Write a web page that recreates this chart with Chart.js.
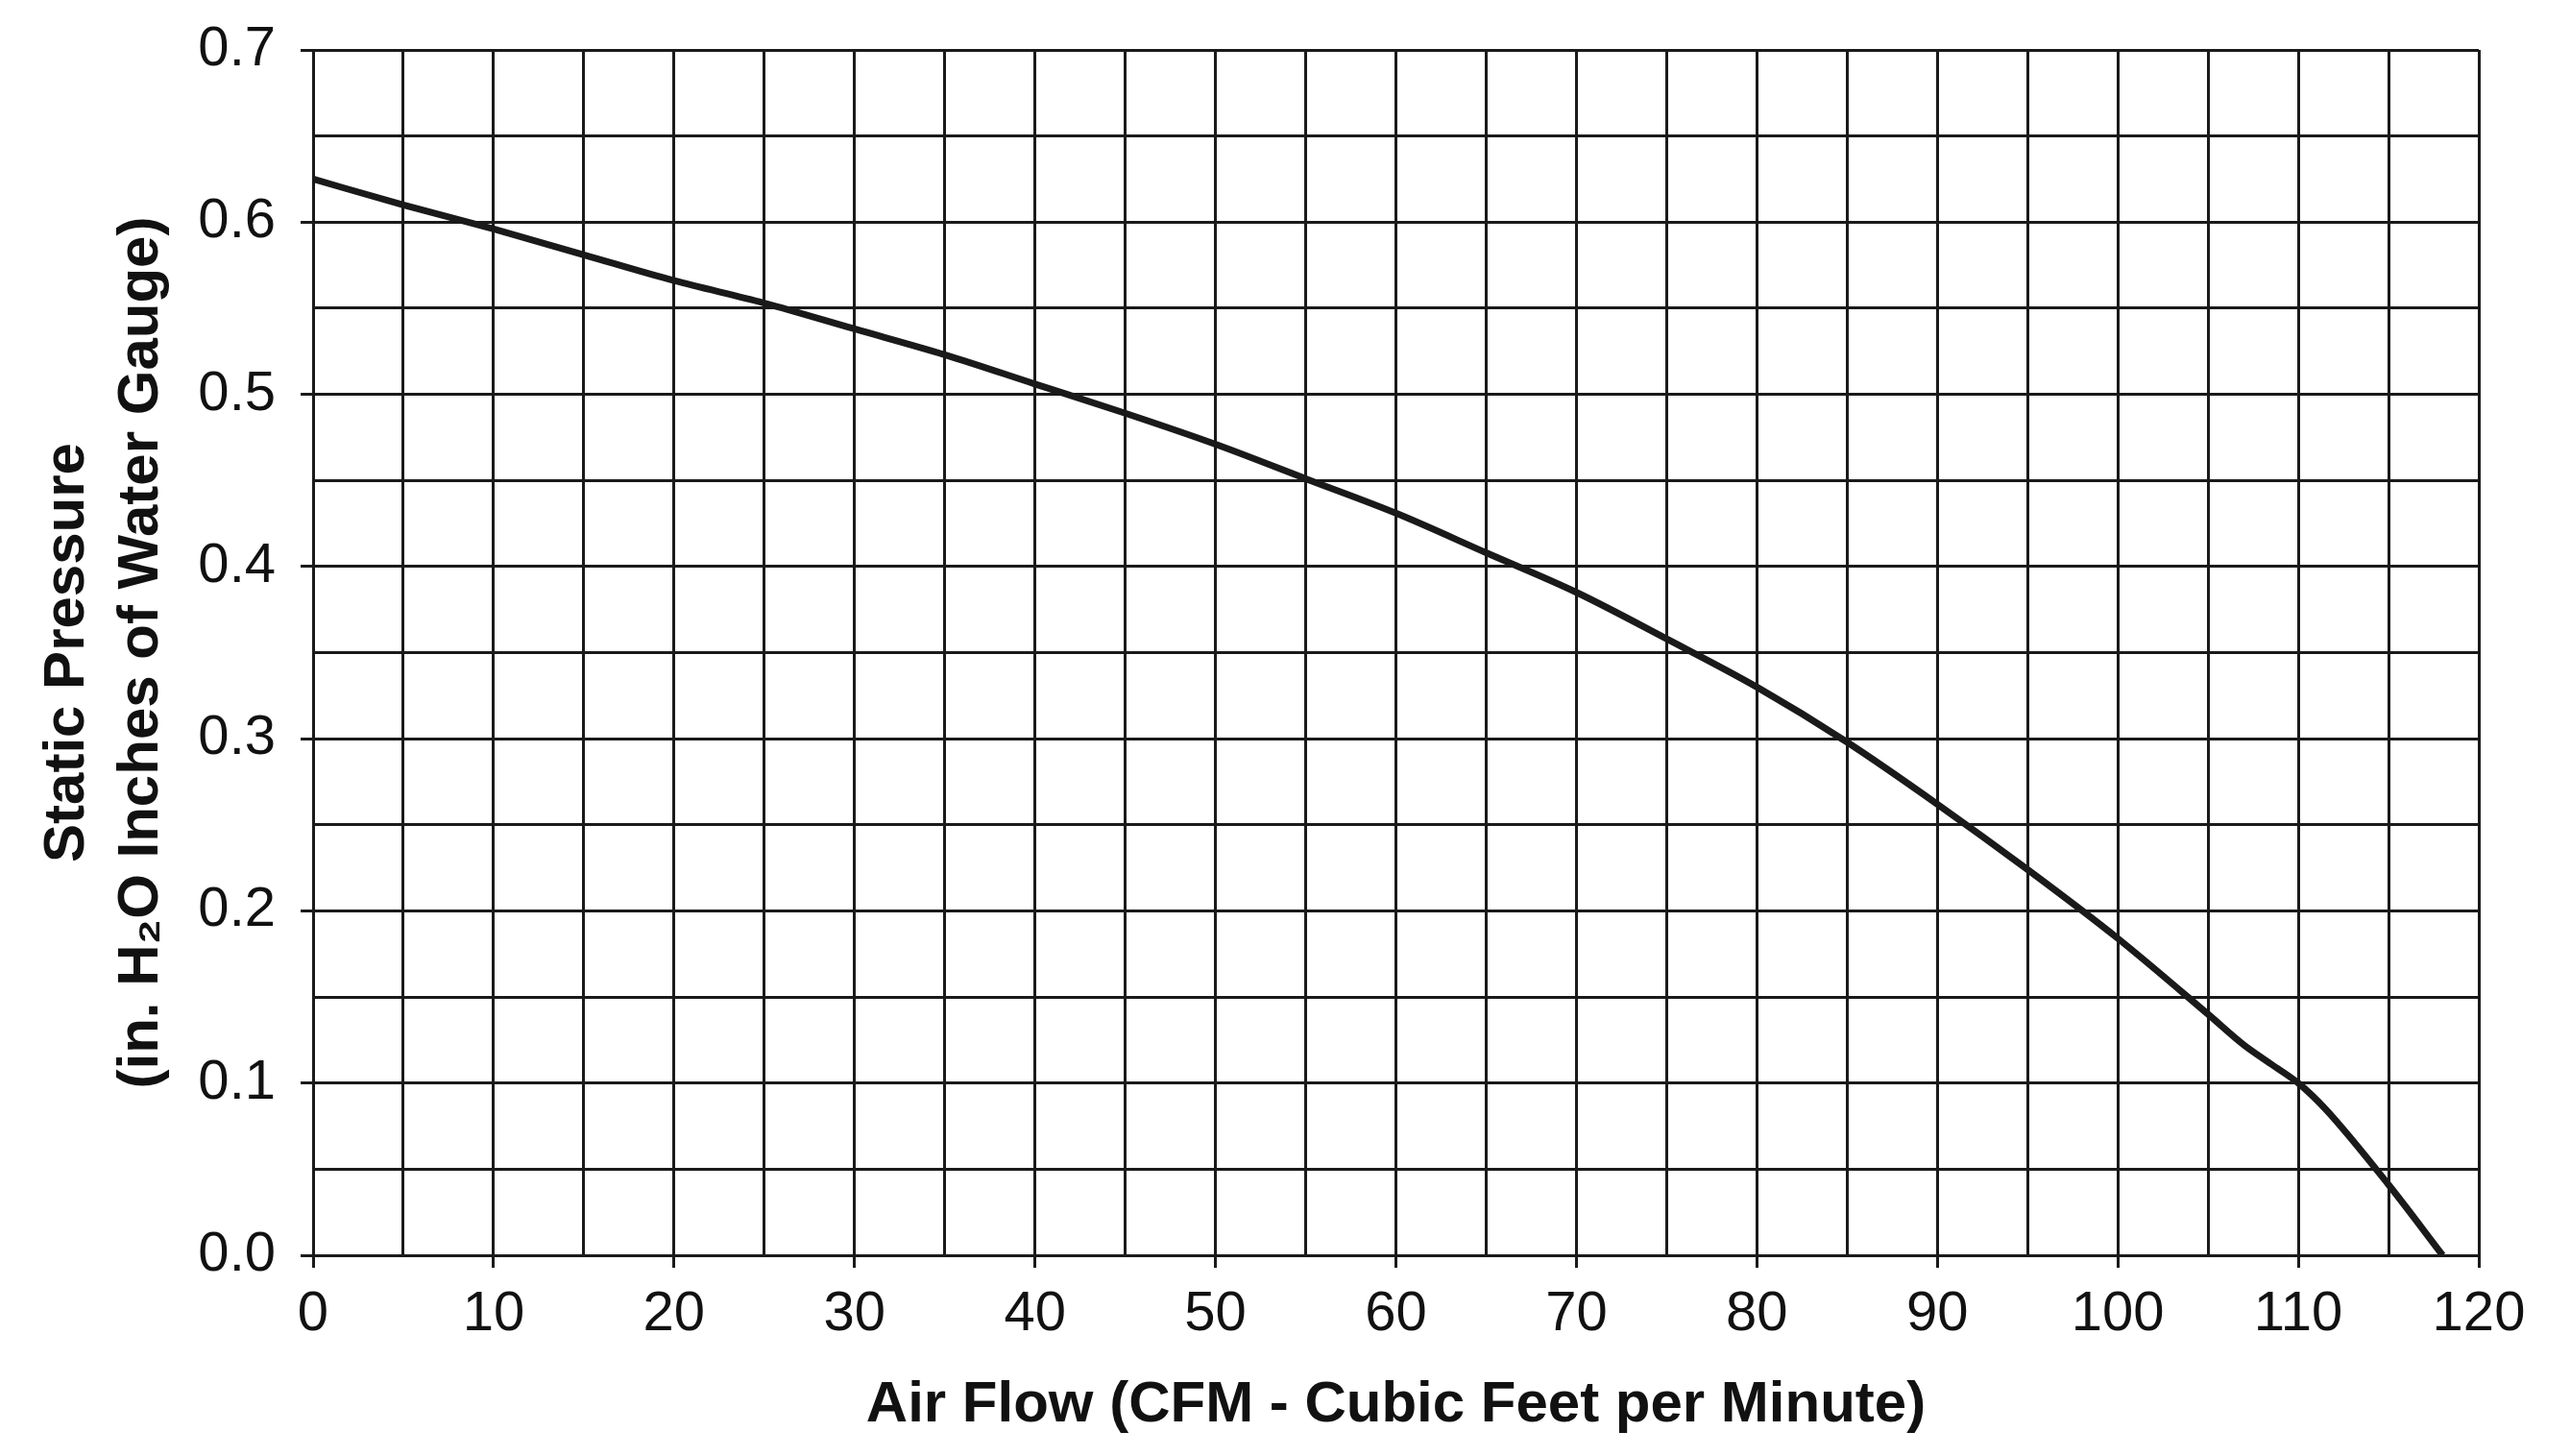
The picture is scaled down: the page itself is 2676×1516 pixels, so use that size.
<!DOCTYPE html>
<html>
<head>
<meta charset="utf-8">
<script src="https://cdn.jsdelivr.net/npm/chart.js@4.4.1/dist/chart.umd.min.js"></script>
<style>
  html, body { margin: 0; padding: 0; background: #ffffff; }
  #wrap { width: 2676px; height: 1516px; position: relative; }
</style>
</head>
<body>
<div id="wrap"><canvas id="c"></canvas></div>
<script>
// Air flow (CFM) values
const airFlow = [0, 5, 10, 15, 20, 25, 30, 35, 40, 45, 50, 55, 60, 65, 70, 75, 80, 85, 90, 95, 100, 105, 107, 108.5, 110, 111.5, 115, 118];
// Static pressure (in. H2O)
const staticPressure = [0.625, 0.610, 0.596, 0.581, 0.566, 0.553, 0.538, 0.523, 0.506, 0.489, 0.471, 0.451, 0.431, 0.408, 0.385, 0.358, 0.330, 0.298, 0.262, 0.224, 0.184, 0.140, 0.122, 0.111, 0.100, 0.085, 0.041, 0.0];

const xTitle = 'Air Flow (CFM - Cubic Feet per Minute)';
const yTitle = ['Static Pressure', '(in. H\u2082O Inches of Water Gauge)'];

const INK = '#1a1a1a';
const tickFont = { family: "'Liberation Sans', Arial, Helvetica, sans-serif", size: 58, weight: 'normal' };
const titleFont = { family: "'Liberation Sans Narrow', 'Arial Narrow', 'Liberation Sans', Arial, sans-serif", size: 60, weight: 'bold', lineHeight: 1.3 };

const points = airFlow.map((x, i) => ({ x: x, y: staticPressure[i] }));

new Chart(document.getElementById('c'), {
  type: 'line',
  data: {
    datasets: [{
      data: points,
      borderColor: INK,
      borderWidth: 7,
      pointRadius: 0,
      fill: false,
      cubicInterpolationMode: 'monotone',
      borderCapStyle: 'butt',
      borderJoinStyle: 'round'
    }]
  },
  options: {
    responsive: true,
    maintainAspectRatio: false,
    animation: false,
    devicePixelRatio: 1,
    layout: { padding: { left: 0, top: 52, right: 95, bottom: 0 } },
    plugins: { legend: { display: false }, tooltip: { enabled: false }, title: { display: false } },
    scales: {
      x: {
        type: 'linear',
        min: 0, max: 120,
        afterFit: (s) => { s.height = 209; s.paddingLeft = 0; s.paddingRight = 0; },
        grid: {
          color: INK, lineWidth: 3, tickLength: 13,
          tickColor: (ctx) => (ctx.tick && Math.round(ctx.tick.value) % 10 === 0) ? INK : 'rgba(0,0,0,0)',
          tickWidth: 3
        },
        border: { color: INK, width: 3 },
        ticks: {
          stepSize: 5, autoSkip: false, maxRotation: 0, padding: 14,
          color: '#111', font: tickFont,
          callback: (v) => (Math.round(v) % 10 === 0 ? String(Math.round(v)) : '')
        },
        title: {
          display: true, text: xTitle, color: '#111', font: titleFont,
          padding: { top: 0, bottom: 14 }
        }
      },
      y: {
        type: 'linear',
        min: 0, max: 0.7,
        afterFit: (s) => { s.width = 326; s.paddingTop = 0; s.paddingBottom = 0; },
        grid: {
          color: INK, lineWidth: 3, tickLength: 13,
          tickColor: (ctx) => (ctx.tick && Math.round(ctx.tick.value * 20) % 2 === 0) ? INK : 'rgba(0,0,0,0)',
          tickWidth: 3
        },
        border: { color: INK, width: 3 },
        ticks: {
          stepSize: 0.05, autoSkip: false, padding: 26,
          color: '#111', font: tickFont,
          callback: (v) => (Math.round(v * 20) % 2 === 0 ? (Math.round(v * 10) / 10).toFixed(1) : '')
        },
        title: {
          display: true, text: yTitle, color: '#111', font: { family: titleFont.family, size: 60, weight: 'bold', lineHeight: 1.28 },
          padding: { top: 32, bottom: 0 }
        }
      }
    }
  }
});
</script>
</body>
</html>
